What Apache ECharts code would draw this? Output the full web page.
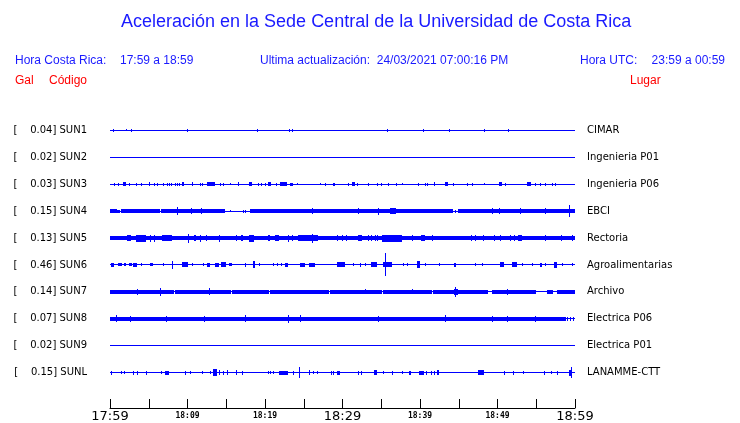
<!DOCTYPE html>
<html>
<head>
<meta charset="utf-8">
<script src="https://cdn.jsdelivr.net/npm/echarts@6/dist/echarts.min.js"></script>
<style>
  html, body { margin: 0; padding: 0; background: #fff; }
  #chart { width: 740px; height: 423px; }
</style>
</head>
<body>
<div id="chart"></div>
<script>
// stations (top to bottom)
const codes = ['SUN1', 'SUN2', 'SUN3', 'SUN4', 'SUN5', 'SUN6', 'SUN7', 'SUN8', 'SUN9', 'SUNL'];
const peaks = ['0.04', '0.02', '0.03', '0.15', '0.13', '0.46', '0.14', '0.07', '0.02', '0.15'];
const places = ['CIMAR', 'Ingenieria P01', 'Ingenieria P06', 'EBCI', 'Rectoria', 'Agroalimentarias',
  'Archivo', 'Electrica P06', 'Electrica P01', 'LANAMME-CTT'];

// time axis: minutes after 17:59, one label per 5 min tick
const timeLabels = ['17:59', '', '18:09', '', '18:19', '', '18:29', '', '18:39', '', '18:49', '', '18:59'];
const majorTimes = ['17:59', '18:29', '18:59'];

// trace envelopes: [start min, end min, half amplitude]
const sun1 = [[0.43, 0.43, 1.8], [2.1, 2.1, 1], [2.76, 2.76, 1.8], [10.0, 10.1, 1.8], [19.05, 19.05, 1.8],
  [23.2, 23.2, 1.8], [23.6, 23.6, 1.8], [35.8, 35.8, 1.2], [40.5, 40.5, 1.8], [43.75, 43.75, 1.8],
  [48.3, 48.3, 1.8], [51.4, 51.4, 1.8]];
const sun2 = [];
const sun3 = [[0.56, 0.56, 1.5], [1.08, 1.08, 1.5], [1.77, 2.03, 2], [2.46, 2.46, 1.5], [3.45, 3.45, 1.5],
  [4.0, 4.0, 1.5], [5.04, 5.04, 2], [5.73, 5.73, 1.5], [6.12, 6.12, 1.5], [6.94, 6.94, 1.5], [7.37, 7.37, 1.5],
  [7.67, 7.67, 1.5], [7.97, 7.97, 1.5], [8.49, 8.49, 1.5], [8.75, 8.75, 1.5], [9.0, 9.0, 1.5], [9.35, 9.61, 2],
  [10.69, 10.69, 2], [11.68, 11.68, 1.5], [11.9, 11.9, 1.5], [12.63, 13.58, 2], [14.27, 14.27, 1.5],
  [14.66, 14.66, 1.5], [15.52, 15.52, 1.2], [16.6, 16.6, 2], [18.02, 18.32, 2], [19.18, 19.18, 1.5],
  [19.61, 19.61, 1.5], [20.04, 20.04, 1.5], [20.47, 20.82, 2], [21.42, 21.42, 1.5], [21.98, 22.84, 2],
  [23.28, 23.58, 1.5], [24.14, 24.14, 1.2], [27.16, 27.16, 1.2], [27.8, 27.8, 1.5], [28.79, 29.0, 1.5],
  [30.73, 30.73, 1.5], [31.25, 31.59, 2], [31.98, 31.98, 1.5], [33.4, 33.4, 1.5], [34.48, 34.48, 1.5],
  [35.04, 35.04, 1.5], [35.99, 35.99, 1.5], [36.94, 36.94, 1.5], [37.72, 37.72, 1.2], [39.87, 39.87, 1.5],
  [40.65, 40.65, 1.5], [40.95, 40.95, 1.5], [41.81, 41.81, 2], [43.32, 43.66, 2], [44.27, 44.27, 1.5],
  [46.12, 46.12, 1.5], [46.77, 46.77, 1.5], [48.28, 48.28, 1.2], [50.22, 50.56, 2], [51.08, 51.08, 1.5],
  [53.88, 54.31, 2], [54.96, 54.96, 1.5], [55.6, 55.6, 1.5], [56.25, 56.25, 1.5], [57.11, 57.11, 1.5],
  [57.54, 57.54, 1.5]];
const sun4 = [[0, 0.86, 2], [1.0, 1.3, 1.5], [1.51, 4.74, 2], [4.87, 6.46, 2], [6.6, 14.87, 2], [15.6, 15.6, 1.2],
  [17.24, 17.24, 1.5], [17.46, 17.46, 1.5], [18.1, 18.1, 2], [18.3, 44.2, 2], [44.6, 44.6, 1.5], [45.0, 60, 2],
  [8.7, 8.7, 4], [10.5, 10.5, 3], [11.85, 11.85, 3], [26.1, 26.1, 3], [32.1, 32.1, 3], [34.7, 34.7, 3.5],
  [36.2, 36.85, 3], [49.4, 49.4, 3], [50.2, 50.2, 3], [53.0, 53.0, 3], [56.2, 56.2, 3], [59.35, 59.35, 6]];
const sun5 = [[0, 60, 2.3], [2.2, 2.7, 3], [3.45, 4.6, 3.5], [5.17, 5.17, 3.5], [5.73, 5.73, 3.5], [6.77, 7.97, 3],
  [10.1, 10.1, 4.5], [10.9, 11.1, 3], [11.72, 11.72, 3.5], [12.5, 12.5, 3], [14.14, 14.14, 3.5], [16.3, 16.3, 3],
  [17.03, 17.2, 3], [17.97, 18.53, 3.5], [20.5, 20.7, 3], [21.3, 21.85, 3], [23.06, 23.06, 3.5], [23.5, 23.5, 3],
  [24.3, 26.8, 3], [26.1, 26.1, 4.5], [29.4, 29.4, 3], [29.96, 29.96, 3], [30.47, 30.47, 3], [32.0, 32.5, 3],
  [33.3, 33.3, 3], [33.7, 33.7, 3], [34.27, 34.27, 3], [34.5, 34.5, 3], [35.2, 37.7, 3.5], [39.0, 39.0, 3],
  [40.2, 40.6, 3], [41.6, 41.6, 3], [46.6, 46.6, 3], [47.2, 47.2, 3], [48.2, 48.2, 3], [49.6, 49.6, 3],
  [50.35, 50.35, 3], [51.64, 51.64, 3], [52.16, 52.16, 3], [52.7, 53.2, 3], [56.2, 56.2, 3], [58.2, 58.2, 3],
  [59.7, 59.7, 3]];
const sun6 = [[0.13, 0.5, 2], [1.08, 1.5, 1.5], [1.85, 2.0, 1.5], [2.46, 2.8, 1.5], [3.0, 3.45, 2], [4.1, 4.1, 1.5],
  [5.17, 5.6, 1.5], [6.9, 6.9, 1.5], [8.06, 8.06, 4], [9.4, 10.0, 2.5], [10.65, 10.65, 1.5], [12.1, 12.1, 1.5],
  [12.63, 12.93, 2], [13.58, 14.0, 2], [14.35, 14.96, 2.5], [15.47, 15.73, 1.5], [17.46, 17.46, 2],
  [18.53, 18.75, 3.5], [19.27, 19.27, 1.5], [21.1, 21.1, 1.5], [21.55, 21.55, 1.5], [22.07, 22.07, 1.5],
  [22.6, 22.97, 2], [24.57, 25.2, 2], [25.7, 26.5, 2], [29.3, 30.3, 2.5], [31.47, 31.47, 1.5], [32.3, 32.3, 2],
  [33.0, 33.0, 1.5], [33.8, 34.5, 2.5], [35.3, 36.4, 2.5], [35.55, 35.55, 11.5], [37.9, 37.9, 1.5],
  [38.36, 38.36, 1.5], [39.65, 39.96, 3.5], [40.7, 40.7, 1.5], [42.46, 42.46, 1.5], [44.4, 44.7, 2],
  [47.2, 47.2, 1.5], [48.0, 48.0, 1.5], [50.4, 50.9, 2.5], [51.9, 52.5, 2.5], [53.2, 53.2, 1.5], [54.5, 54.5, 1.5],
  [55.6, 55.8, 2], [56.25, 56.25, 1.5], [57.3, 57.7, 3], [58.4, 58.4, 1.5], [59.7, 59.7, 1.5]];
const sun7 = [[0, 8.3, 1.8], [8.5, 15.6, 1.8], [15.8, 20.5, 1.8], [20.7, 28.3, 1.8], [28.5, 35.1, 1.8],
  [35.3, 41.6, 1.8], [41.8, 48.8, 1.8], [49.35, 54.96, 1.8], [56.5, 57.1, 1.8], [57.8, 60, 1.8],
  [3.53, 3.53, 3], [6.5, 6.5, 4], [12.9, 12.9, 3.5], [33.0, 33.0, 2.5], [39.0, 39.0, 2.5], [44.4, 44.9, 3],
  [44.6, 44.6, 5], [51.3, 51.3, 3]];
const sun8 = [[0, 58.9, 2.2], [59.05, 59.1, 2.2], [59.4, 59.45, 2.2], [59.8, 59.9, 2.2], [0.78, 0.78, 3.5],
  [2.6, 2.6, 2.8], [7.3, 7.3, 2.8], [12.2, 12.2, 2.8], [17.46, 17.46, 3.5], [23.0, 23.15, 4], [24.57, 24.57, 3.5],
  [34.6, 34.6, 2.8], [43.3, 43.3, 3.5], [49.4, 49.4, 2.8], [51.3, 51.3, 2.8], [54.9, 54.9, 2.8]];
const sun9 = [];
const sunL = [[0.13, 0.13, 2], [1.5, 1.5, 1.5], [1.85, 1.85, 1.2], [3.02, 3.02, 2], [3.53, 3.53, 2], [4.7, 4.7, 2],
  [6.68, 6.68, 1.2], [7.1, 7.6, 2], [9.7, 9.7, 2], [10.4, 10.4, 1.5], [11.94, 11.94, 1.5], [12.97, 12.97, 1.5],
  [13.4, 13.8, 3.5], [14.1, 14.1, 2.5], [14.66, 14.66, 2], [15.2, 15.2, 2.5], [16.3, 16.3, 2.5], [17.15, 17.15, 2],
  [20.47, 20.47, 1.5], [20.77, 20.77, 1.5], [21.1, 21.1, 1.5], [21.9, 23.0, 2], [23.7, 23.7, 2],
  [24.48, 24.48, 5.5], [25.73, 25.73, 2.5], [26.2, 26.2, 1.5], [26.8, 26.8, 1.5], [28.6, 28.6, 2], [28.9, 28.9, 2],
  [29.3, 29.7, 2], [32.0, 32.0, 2], [32.45, 32.45, 2], [34.1, 34.5, 2.5], [35.35, 35.35, 1.5], [36.5, 36.5, 2],
  [37.8, 37.8, 1.5], [38.6, 38.9, 2], [39.9, 40.5, 2], [40.8, 40.8, 2], [41.5, 41.5, 2], [41.9, 41.9, 2],
  [42.2, 42.5, 2.5], [47.6, 48.2, 2.5], [50.86, 50.86, 2], [52.0, 52.0, 2], [53.3, 53.3, 1.5], [56.03, 56.03, 2],
  [57.0, 57.0, 1.5], [57.75, 57.75, 2], [59.35, 59.65, 3], [59.5, 59.5, 5.5]];

const traces = [sun1, sun2, sun3, sun4, sun5, sun6, sun7, sun8, sun9, sunL];

const BLUE = '#0000ff';
const HEAD_BLUE = '#1a1aff';

// [t0, t1, row, amp]; first item of every row is the flat trace itself
const traceData = [];
traces.forEach((events, row) => {
  traceData.push([0, 60, row, 0]);
  events.forEach(e => traceData.push([e[0], e[1], row, e[2]]));
});

function renderTrace(params, api) {
  const a = api.coord([api.value(0), api.value(2)]);
  const b = api.coord([api.value(1), api.value(2)]);
  const k = api.size([0, 1])[1] / 27;
  const h = Math.max(api.value(3) * k, 0.5);
  const x0 = Math.floor(a[0]);
  const x1 = Math.max(Math.round(b[0]), x0 + 1);
  const y0 = Math.round(a[1] - h);
  const y1 = Math.max(Math.round(a[1] + h), y0 + 1);
  return {
    type: 'rect',
    shape: { x: x0, y: y0, width: x1 - x0, height: y1 - y0 },
    style: { fill: BLUE }
  };
}

const chart = echarts.init(document.getElementById('chart'));

const headFont = '12px "Liberation Sans", Arial, sans-serif';

const option = {
  animation: false,
  backgroundColor: '#fff',
  title: {
    text: 'Aceleración en la Sede Central de la Universidad de Costa Rica',
    left: 121,
    top: 13,
    padding: 0,
    textStyle: { color: HEAD_BLUE, fontSize: 18, fontWeight: 'normal', fontFamily: '"Liberation Sans", Arial, sans-serif' }
  },
  graphic: [
    { type: 'text', left: 15, top: 55, style: { text: 'Hora Costa Rica:', font: headFont, fill: HEAD_BLUE } },
    { type: 'text', left: 120, top: 55, style: { text: '17:59 a 18:59', font: headFont, fill: HEAD_BLUE } },
    { type: 'text', left: 260, top: 55, style: { text: 'Ultima actualización:  24/03/2021 07:00:16 PM', font: headFont, fill: HEAD_BLUE } },
    { type: 'text', left: 580, top: 55, style: { text: 'Hora UTC:', font: headFont, fill: HEAD_BLUE } },
    { type: 'text', right: 15, top: 55, style: { text: '23:59 a 00:59', font: headFont, fill: HEAD_BLUE } },
    { type: 'text', left: 15, top: 75, style: { text: 'Gal', font: headFont, fill: '#ff0000' } },
    { type: 'text', left: 49, top: 75, style: { text: 'Código', font: headFont, fill: '#ff0000' } },
    { type: 'text', left: 630, top: 75, style: { text: 'Lugar', font: headFont, fill: '#ff0000' } }
  ],
  grid: { left: 110, right: 165, top: 117, height: 270 },
  xAxis: {
    type: 'value',
    min: 0,
    max: 60,
    interval: 5,
    offset: 22,
    axisLine: { show: true, lineStyle: { color: '#000', width: 1 } },
    axisTick: { show: true, inside: true, length: 9, lineStyle: { color: '#000', width: 1 } },
    splitLine: { show: false },
    axisLabel: {
      showMinLabel: true,
      showMaxLabel: true,
      margin: 1,
      formatter: v => {
        const s = timeLabels[Math.round(v / 5)];
        if (!s) return '';
        return majorTimes.includes(s) ? '{big|' + s + '}' : '{small|' + s + '}';
      },
      rich: {
        big: { fontSize: 13, fontFamily: '"DejaVu Sans", sans-serif', color: '#000', lineHeight: 15 },
        small: { fontSize: 8, fontFamily: '"DejaVu Sans Mono", monospace', fontWeight: 'bold', color: '#000', lineHeight: 13 }
      }
    }
  },
  yAxis: [
    {
      type: 'category',
      data: codes,
      inverse: true,
      axisLine: { show: false },
      axisTick: { show: false },
      splitLine: { show: false },
      axisLabel: {
        margin: 23,
        color: '#000',
        fontSize: 10,
        fontFamily: '"DejaVu Sans", sans-serif',
        padding: [2, 0, 0, 0],
        formatter: (v, i) => '[    ' + peaks[i] + '] ' + v
      }
    },
    {
      type: 'category',
      data: places,
      inverse: true,
      position: 'right',
      axisLine: { show: false },
      axisTick: { show: false },
      splitLine: { show: false },
      axisLabel: {
        margin: 12,
        color: '#000',
        fontSize: 10,
        fontFamily: '"DejaVu Sans", sans-serif',
        padding: [2, 0, 0, 0]
      }
    }
  ],
  series: [
    {
      type: 'custom',
      xAxisIndex: 0,
      yAxisIndex: 0,
      clip: false,
      silent: true,
      encode: { x: [0, 1], y: 2 },
      renderItem: renderTrace,
      data: traceData
    }
  ]
};

chart.setOption(option);
</script>
</body>
</html>
